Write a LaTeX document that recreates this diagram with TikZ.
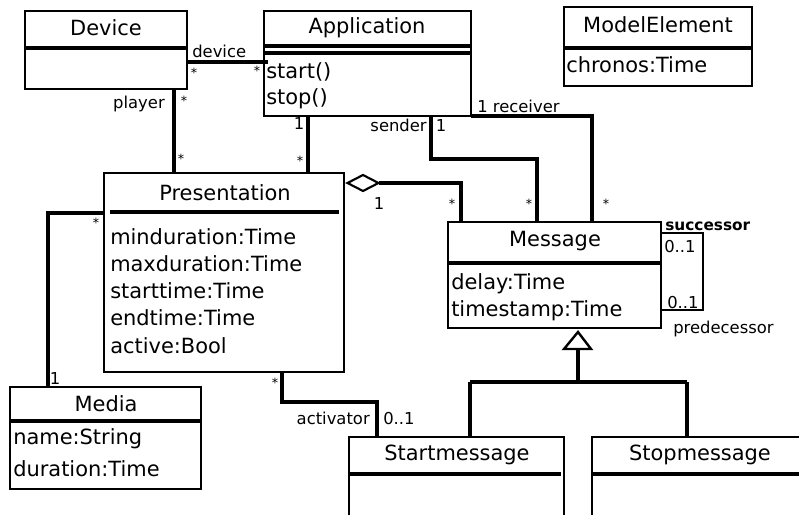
\documentclass[tikz,border=0pt]{standalone}
\usepackage{fontspec}
\setmainfont{DejaVu Sans}
\usetikzlibrary{calc,shapes.geometric}
\begin{document}
\begin{tikzpicture}[x=0.75pt,y=-0.75pt,
  box/.style={draw, line width=2.0pt, anchor=north west, inner sep=0pt, outer sep=0pt},
  conn/.style={line width=2.3pt},
  thin conn/.style={line width=1.8pt},
  title/.style={font=\fontsize{15.7}{18}\selectfont, inner sep=0pt},
  attr/.style={font=\fontsize{15.7}{18}\selectfont, inner sep=0pt, anchor=base west},
  lbl/.style={font=\fontsize{12.3}{14}\selectfont, inner sep=0pt},
  mult/.style={font=\fontsize{9.5}{11}\selectfont, inner sep=0pt},
  divider/.style={line width=2.3pt}]
\useasboundingbox (0,0) rectangle (799,514);
\begin{scope}
\clip (0,0) rectangle (799,514);
\fill[white] (0,0) rectangle (799,514);

% ---- boxes
\node[box, minimum width=162*0.75pt, minimum height=78*0.75pt] (dev) at (25,11) {};
\node[box, minimum width=207*0.75pt, minimum height=105*0.75pt] (app) at (264,11) {};
\node[box, minimum width=188*0.75pt, minimum height=79*0.75pt] (me) at (564,7) {};
\node[box, minimum width=240*0.75pt, minimum height=199*0.75pt] (pres) at (104,173) {};
\node[box, minimum width=213*0.75pt, minimum height=106*0.75pt] (msg) at (448,222) {};
\node[box, minimum width=191*0.75pt, minimum height=102*0.75pt] (media) at (10,387) {};
\node[box, minimum width=215*0.75pt, minimum height=100*0.75pt] (start) at (349,437) {};
\node[box, minimum width=220*0.75pt, minimum height=100*0.75pt] (stop) at (592,437) {};

% ---- dividers
\draw[divider] ($(dev.north west)+(0,37)$) -- ($(dev.north east)+(0,37)$);
\draw[divider] ($(app.north west)+(0,35)$) -- ($(app.north east)+(0,35)$);
\draw[divider] ($(app.north west)+(0,42)$) -- ($(app.north east)+(0,42)$);
\draw[divider] ($(me.north west)+(0,41)$) -- ($(me.north east)+(0,41)$);
\draw[divider] ($(pres.north west)+(6,39)$) -- ($(pres.north east)+(-5,39)$);
\draw[divider] ($(msg.north west)+(0,41)$) -- ($(msg.north east)+(0,41)$);
\draw[divider] ($(media.north west)+(0,34)$) -- ($(media.north east)+(0,34)$);
\draw[divider] ($(start.north west)+(0,37)$) -- ($(start.north east)+(-3,37)$);
\draw[divider] ($(stop.north west)+(0,37)$) -- ($(stop.north east)+(0,37)$);

% ---- titles
\node[title] (tdev) at (106,28) {Device};
\node[title] (tapp) at (367,28) {Application};
\node[title] (tme) at (658,25) {ModelElement};
\node[title] (tpres) at (225,193) {Presentation};
\node[title] (tmsg) at (555,241) {Message};
\node[title] (tmedia) at (106,404) {Media};
\node[title] (tstart) at (457,455) {Startmessage};
\node[title] (tstop) at (700,455) {Stopmessage};

% ---- attributes / operations
\node[attr] (a1) at (566,72) {chronos:Time};
\node[attr] (a2) at (266,78) {start()};
\node[attr] (a3) at (266,104) {stop()};
\node[attr] (a4) at (110,244) {minduration:Time};
\node[attr] (a5) at (110,271) {maxduration:Time};
\node[attr] (a6) at (110,298) {starttime:Time};
\node[attr] (a7) at (110,325) {endtime:Time};
\node[attr] (a8) at (110,353) {active:Bool};
\node[attr] (a9) at (451,289) {delay:Time};
\node[attr] (a10) at (451,316) {timestamp:Time};
\node[attr] (a11) at (13,444) {name:String};
\node[attr] (a12) at (13,476) {duration:Time};

% ---- coordinates for bends
\coordinate (b1) at (48,213);
\coordinate (b2) at (431,159);
\coordinate (b3) at (537,159);
\coordinate (b4) at (592,116);
\coordinate (b5) at (461,183);
\coordinate (b6) at (282,402);
\coordinate (b7) at (377,402);
\coordinate (s1) at (703,233);
\coordinate (s2) at (703,310);
\coordinate (g1) at (578,382);
\coordinate (g2) at (470,382);
\coordinate (g3) at (687,382);

% ---- connectors
\draw[conn] ($(dev.north east)+(0,51)$) -- ($(app.north west)+(4,51)$);
\draw[conn] ($(dev.south west)+(149,0)$) -- ($(pres.north west)+(70,0)$);
\draw[conn] ($(app.south west)+(44,0)$) -- ($(pres.north west)+(204,0)$);
\draw[conn] (app.south west -| b2) -- (b2) -- (b3) -- (msg.north west -| b3);
\draw[conn] (app.south east) -- (b4) -- (msg.north west -| b4);
\draw[conn] (media.north west -| b1) -- (b1) -- (pres.west |- b1);
\draw[conn] (pres.south west -| b6) -- (b6) -- (b7) -- (start.north west -| b7);
% aggregation
\node[draw, line width=1.6pt, shape=diamond, minimum width=31*0.75pt, minimum height=16*0.75pt, inner sep=0pt, outer sep=0pt] (dia) at (363,183) {};
\draw[conn] (dia.east) -- (b5) -- (msg.north west -| b5);
% self association
\draw[thin conn] (msg.north east |- s1) -- (s1) -- (s2) -- (msg.north east |- s2);
% generalization
\coordinate (tri) at (578,332);
\draw[line width=1.8pt, fill=white] (tri) -- (591,349) -- (564,349) -- cycle;
\draw[conn] (578,349) -- (g1);
\draw[conn] (g2) -- (g3);
\draw[conn] (g2) -- (start.north west -| g2);
\draw[conn] (g3) -- (stop.north west -| g3);

% ---- labels
\node[lbl, anchor=base west] (l1) at (192,57) {device};
\node[lbl, anchor=base east] (l2) at (165,108) {player};
\node[lbl, anchor=base east] (l3) at (427,131) {sender};
\node[lbl, anchor=base west] (l4) at (477,112) {1 receiver};
\node[lbl, anchor=base east] (l5) at (370,424) {activator};
\node[lbl, anchor=base west] (l6) at (383,424) {0..1};
\node[lbl, anchor=base west, font=\fontsize{11.5}{14}\selectfont\bfseries] (l7) at (665,230) {successor};
\node[lbl, anchor=base west] (l8) at (673,333) {predecessor};
\node[lbl, anchor=base west] (l9) at (664,252) {0..1};
\node[lbl, anchor=base west] (l10) at (667,308) {0..1};
\node[lbl] (m1) at (299,124) {1};
\node[lbl] (m2) at (441,126) {1};
\node[lbl] (m3) at (379,204) {1};
\node[lbl] (m4) at (55,379) {1};
\node[mult] (s_1) at (194,73) {*};
\node[mult] (s_2) at (257,71) {*};
\node[mult] (s_3) at (184,101) {*};
\node[mult] (s_4) at (181,159) {*};
\node[mult] (s_5) at (300,161) {*};
\node[mult] (s_6) at (452,204) {*};
\node[mult] (s_7) at (529,204) {*};
\node[mult] (s_8) at (606,204) {*};
\node[mult] (s_9) at (96,223) {*};
\node[mult] (s_10) at (275,383) {*};
\end{scope}
\end{tikzpicture}
\end{document}
